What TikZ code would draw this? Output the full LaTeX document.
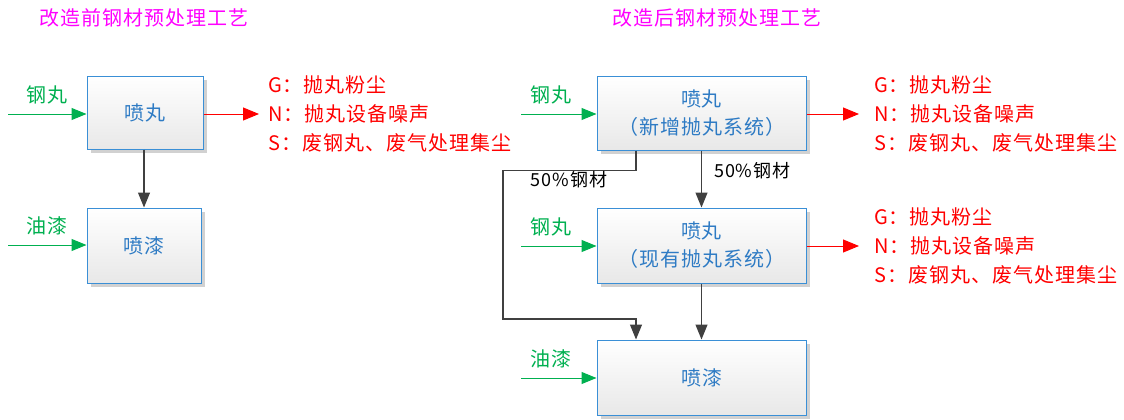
\documentclass[tikz,border=0pt]{standalone}
\usepackage{fontspec}
\newfontfamily\cjk[LetterSpace=5]{Noto Sans CJK SC}
\usetikzlibrary{arrows.meta,shadows}
\definecolor{boxblue}{HTML}{3A8FD6}
\definecolor{txtblue}{HTML}{2E7BC4}
\definecolor{grn}{HTML}{00B050}
\definecolor{mag}{HTML}{FF00FF}
\definecolor{dgray}{HTML}{404040}
\begin{document}
\begin{tikzpicture}[x=1pt,y=-1pt,
  every node/.style={font=\cjk\fontsize{20}{28}\selectfont, inner sep=0pt},
  procbox/.style={draw=boxblue, line width=1pt, top color=white, bottom color=black!9,
     text=txtblue, align=center,
     drop shadow={shadow xshift=4pt, shadow yshift=-4pt, fill=black!18, opacity=1}},
  flow/.style={draw=dgray, line width=1.2pt, -{Triangle[length=15pt,width=12pt]}},
  ginp/.style={draw=grn, line width=1pt, -{Triangle[length=15pt,width=12pt]}},
  rout/.style={draw=red, line width=1pt, -{Triangle[length=16pt,width=13pt]}},
  glab/.style={text=grn},
  rlab/.style={text=red, anchor=west},
  ttl/.style={text=mag},
  pct/.style={font=\cjk\fontsize{18}{20}\selectfont, text=black}]
\useasboundingbox (0,0) rectangle (1124,420);
% titles
\node[ttl] (t1) at (144,18) {改造前钢材预处理工艺};
\node[ttl] (t2) at (717,18) {改造后钢材预处理工艺};
% left side
\node[procbox, minimum width=116pt, minimum height=73pt] (a1) at (145,112.5) {喷丸};
\node[procbox, minimum width=114pt, minimum height=75pt] (a2) at (144,245.5) {喷漆};
\coordinate (ai1) at (8,114);
\coordinate (ai2) at (8,245);
\node[glab] (al1) at (47,95) {钢丸};
\node[glab] (al2) at (47,226) {油漆};
\draw[ginp] (ai1) -- (ai1 -| a1.west);
\draw[ginp] (ai2) -- (ai2 -| a2.west);
\draw[flow] (a1.south -| a2.north) -- (a2.north);
\coordinate (ao1) at (259,114);
\draw[rout] (ao1 -| a1.east) -- (ao1);
\node[rlab] (ag) at (268,85) {G：抛丸粉尘};
\node[rlab] (an) at (268,114) {N：抛丸设备噪声};
\node[rlab] (as) at (268,143) {S：废钢丸、废气处理集尘};
% right side
\node[procbox, minimum width=209pt, minimum height=74pt] (r1) at (701.5,113) {喷丸\\（新增抛丸系统）};
\node[procbox, minimum width=209pt, minimum height=75pt] (r2) at (701.5,245.5) {喷丸\\（现有抛丸系统）};
\node[procbox, minimum width=209pt, minimum height=75pt] (r3) at (701.5,377.5) {喷漆};
\coordinate (ri1) at (521,114);
\coordinate (ri2) at (521,246);
\coordinate (ri3) at (521,378);
\node[glab] (rl1) at (551,95) {钢丸};
\node[glab] (rl2) at (551,227) {钢丸};
\node[glab] (rl3) at (551,359) {油漆};
\draw[ginp] (ri1) -- (ri1 -| r1.west);
\draw[ginp] (ri2) -- (ri2 -| r2.west);
\draw[ginp] (ri3) -- (ri3 -| r3.west);
\draw[flow] (r1.south) -- (r2.north);
\draw[flow] (r2.south) -- (r3.north);
\node[pct, anchor=west] (p1) at (714,171) {50\%钢材};
\coordinate (lx) at (636,0);
\coordinate (c1) at (503,319);
\draw[flow] (r1.south -| lx) -- ++(0,20) -| (c1) -| (r3.north -| lx);
\node[pct] (p2) at (569,180) {50\%钢材};
\coordinate (ro1) at (859,114);
\coordinate (ro2) at (859,246);
\draw[rout] (ro1 -| r1.east) -- (ro1);
\draw[rout] (ro2 -| r2.east) -- (ro2);
\node[rlab] (bg) at (874,85) {G：抛丸粉尘};
\node[rlab] (bn) at (874,114) {N：抛丸设备噪声};
\node[rlab] (bs) at (874,143) {S：废钢丸、废气处理集尘};
\node[rlab] (cg) at (874,217) {G：抛丸粉尘};
\node[rlab] (cn) at (874,246) {N：抛丸设备噪声};
\node[rlab] (cs) at (874,275) {S：废钢丸、废气处理集尘};
\end{tikzpicture}
\end{document}
